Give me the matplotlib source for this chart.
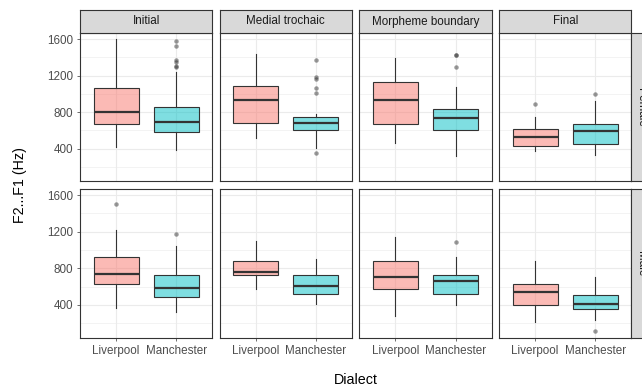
import matplotlib
matplotlib.use("Agg")
import matplotlib.pyplot as plt
from matplotlib.colors import to_rgba

plt.rcParams['font.family'] = ['Liberation Sans', 'DejaVu Sans']

positions = ["Initial", "Medial trochaic", "Morpheme boundary", "Final"]
dialects = ["Liverpool", "Manchester"]
sexes = ["Female", "Male"]
fill_colors = ["#F8766D", "#00BFC4"]

# indexed [sex][position][dialect]
whis_lo = [
    [[418, 389], [521, 407], [466, 316], [374, 330]],
    [[364, 327], [571, 415], [276, 404], [218, 240]],
]
q1 = [
    [[671, 583], [685, 609], [674, 609], [433, 451]],
    [[629, 484], [724, 516], [571, 520], [396, 356]],
]
median = [
    [[799, 696], [930, 682], [930, 740], [528, 594]],
    [[742, 589], [764, 607], [705, 662], [538, 411]],
]
q3 = [
    [[1059, 861], [1084, 751], [1132, 839], [620, 667]],
    [[927, 731], [880, 731], [884, 731], [633, 513]],
]
whis_hi = [
    [[1596, 1238], [1432, 784], [1388, 1070], [751, 920]],
    [[1215, 1044], [1098, 902], [1138, 920], [880, 705]],
]
outliers = [
    [[[], [1578, 1520, 1366, 1348, 1304, 1289]],
     [[], [1373, 1183, 1165, 1066, 1007, 352]],
     [[], [1428, 1422, 1296]],
     [[890], [996]]],
    [[[1498], [1178]],
     [[], []],
     [[], [1091]],
     [[], [116]]],
]

W, H = 642, 388
fig = plt.figure(figsize=(W / 100, H / 100), dpi=100)
fig.patch.set_facecolor("white")


def rect(x0, y0, x1, y1):
    return [x0 / W, 1 - y1 / H, (x1 - x0) / W, (y1 - y0) / H]


col_x0 = [80 + i * 139.7 for i in range(4)]
col_w = 132.3
row_y = [(32.7, 181.3), (188.7, 337.7)]
border_c = "#333333"

for r, sex in enumerate(sexes):
    for c, pos in enumerate(positions):
        x0 = col_x0[c]
        y0, y1 = row_y[r]
        ax = fig.add_axes(rect(x0, y0, x0 + col_w, y1))
        stats = []
        for d in range(2):
            stats.append(dict(med=median[r][c][d], q1=q1[r][c][d], q3=q3[r][c][d],
                              whislo=whis_lo[r][c][d], whishi=whis_hi[r][c][d],
                              fliers=outliers[r][c][d]))
        bp = ax.bxp(stats, positions=[1, 2], widths=0.75, patch_artist=True,
                    showcaps=False,
                    boxprops=dict(edgecolor=border_c, linewidth=0.8),
                    whiskerprops=dict(color=border_c, linewidth=0.8),
                    medianprops=dict(color=border_c, linewidth=1.6),
                    flierprops=dict(marker='o', markerfacecolor=(0.2, 0.2, 0.2, 0.5),
                                    markeredgecolor='none', markersize=3.2))
        for patch, fc in zip(bp['boxes'], fill_colors):
            patch.set_facecolor(to_rgba(fc, 0.5))
        ax.set_xlim(0.4, 2.6)
        ax.set_ylim(42, 1670)
        ax.set_yticks([400, 800, 1200, 1600])
        ax.set_yticks([200, 600, 1000, 1400], minor=True)
        ax.set_xticks([1, 2])
        ax.grid(True, which='major', color='#EBEBEB', linewidth=0.8)
        ax.grid(True, which='minor', axis='y', color='#EBEBEB', linewidth=0.4)
        ax.set_axisbelow(True)
        for s in ax.spines.values():
            s.set_color(border_c)
            s.set_linewidth(0.8)
        ax.tick_params(which='minor', length=0)
        ax.tick_params(which='major', length=2.4, width=0.5, color=border_c,
                       labelcolor='#4D4D4D', labelsize=8.4, pad=2.5)
        if r == 1:
            ax.set_xticklabels(dialects)
        else:
            ax.tick_params(axis='x', length=0, labelbottom=False)
        if c != 0:
            ax.tick_params(axis='y', length=0, labelleft=False)

        if r == 0:
            sax = fig.add_axes(rect(x0, 10.3, x0 + col_w, 32.7))
            sax.set_facecolor('#D9D9D9')
            sax.set_xticks([]); sax.set_yticks([])
            for s in sax.spines.values():
                s.set_color(border_c); s.set_linewidth(0.8)
            sax.text(0.5, 0.5, pos, ha='center', va='center', fontsize=8.4,
                     color='#1A1A1A', transform=sax.transAxes)
        if c == 3:
            sax = fig.add_axes(rect(x0 + col_w, y0, x0 + col_w + 22.4, y1))
            sax.set_facecolor('#D9D9D9')
            sax.set_xticks([]); sax.set_yticks([])
            for s in sax.spines.values():
                s.set_color(border_c); s.set_linewidth(0.8)
            sax.text(0.43, 0.5, sex, ha='center', va='center', fontsize=8.4,
                     color='#1A1A1A', rotation=-90, transform=sax.transAxes)

fig.text(20 / W, 1 - 185 / H, "F2...F1 (Hz)", rotation=90, ha='center', va='center',
         fontsize=10.3, color='black')
fig.text(356 / W, 1 - 380 / H, "Dialect", ha='center', va='center',
         fontsize=10.3, color='black')

fig.savefig("out.png", dpi=100)
